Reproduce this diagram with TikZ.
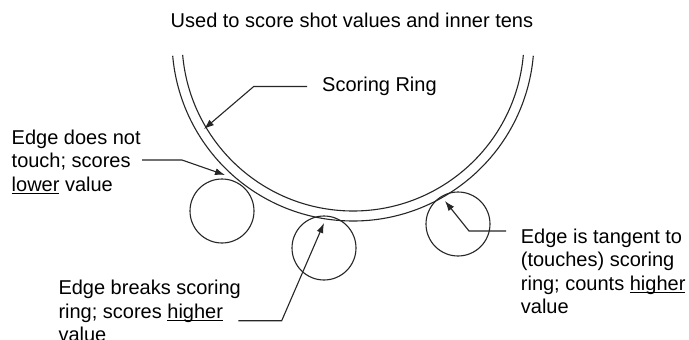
\documentclass[tikz,border=0pt]{standalone}
\usepackage{fontspec}
\setmainfont{Liberation Sans}
\usetikzlibrary{arrows.meta}
\newsavebox\ulbox
\newcommand{\undl}[1]{\sbox\ulbox{#1}\rlap{\rule[-2.6pt]{\wd\ulbox}{0.9pt}}\usebox\ulbox}
\begin{document}
\begin{tikzpicture}[x=1pt,y=-1pt,
  txt/.style={font=\fontsize{20}{23.5}\selectfont, inner sep=0pt, align=left, anchor=base west},
  ln/.style={line width=1.1pt, black!85},
  shot/.style={circle, draw=black!85, line width=1.1pt, minimum size=64pt, inner sep=0pt},
  pointer/.style={line width=1.1pt, black!85, -{Latex[length=10pt,width=7pt]}},
]
\useasboundingbox (0,0) rectangle (689,340);
\fill[white] (0,0) rectangle (689,340);

% scoring ring (two concentric arcs)
\coordinate (ringc) at (353,40);
\draw[ln] (ringc) ++(5:181) arc[start angle=5,end angle=175,radius=181];
\draw[ln] (ringc) ++(5:171) arc[start angle=5,end angle=175,radius=171];

% shot holes
\node[shot] (c1) at (222,211) {};
\node[shot] (c2) at (324,248) {};
\node[shot] (c3) at (458,224) {};

% texts (base anchor = baseline of the last line)
\node[txt] (title) at (170.5,27.7) {Used to score shot values and inner tens};
\node[txt] (ring) at (322,91.7) {Scoring Ring};
\node[txt] (lowtxt) at (11.5,191) {Edge does not\\touch; scores\\\undl{lower} value};
\node[txt] (breaktxt) at (58.3,341.5) {Edge breaks scoring\\ring; scores \undl{higher}\\value};
\node[txt] (tantxt) at (520.7,313.5) {Edge is tangent to\\(touches) scoring\\ring; counts \undl{higher}\\value};

% connector ends
\coordinate (tRing) at (204,129);
\coordinate (tLow) at (225,175);
\coordinate (tBreak) at (324,223);
\coordinate (tTan) at (445,201);
\coordinate (lowFrom) at (142,160);
\coordinate (breakFrom) at (238.3,320.7);
\coordinate (tanFrom) at (506,231);

% connectors
\draw[pointer] ([xshift=-15pt]ring.west) -- ++(-53.3,0) -- (tRing);
\draw[pointer] (lowFrom) -- ++(40,0) -- (tLow);
\draw[pointer] (breakFrom) -- ++(43.4,0) -- (tBreak);
\draw[pointer] (tanFrom) -- ++(-37,0) -- (tTan);
\end{tikzpicture}
\end{document}
